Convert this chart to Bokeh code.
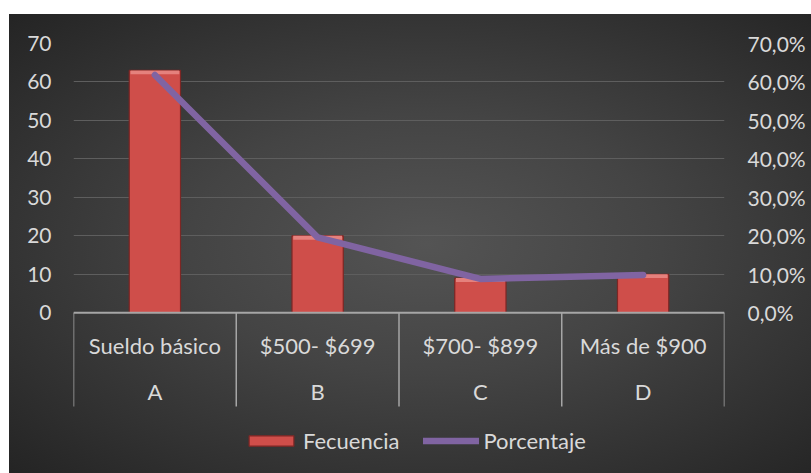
from bokeh.plotting import figure
from bokeh.models import (Range1d, LinearAxis, FixedTicker, Grid, Legend, LegendItem,
                          ColumnDataSource, Span)
from bokeh.core.properties import value
from bokeh.embed import file_html
from bokeh.resources import INLINE

# ---- data ----
categories = ["Sueldo básico", "$500- $699", "$700- $899", "Más de $900"]
groups = ["A", "B", "C", "D"]
frecuencia = [63, 20, 9, 10]
porcentaje = [61.8, 19.6, 8.8, 9.8]
y_ticks = [0, 10, 20, 30, 40, 50, 60, 70]
pct_tick_labels = ["0,0%", "10,0%", "20,0%", "30,0%", "40,0%", "50,0%", "60,0%", "70,0%"]

FONT = "Lato"
TXT = "#d9d9d9"
FS_AX = "21px"
FS = "22px"
AXC = "#a6a6a6"

# layout constants (value units below the zero line hold the category table)
Y_BOTTOM = -41.8
ROW1_Y = -8.4
ROW2_Y = -20.5
SEP_Y = -24.4
BEVEL = 1.0

n = len(categories)
centers = list(range(n))
bounds = [i - 0.5 for i in range(n + 1)]

src = ColumnDataSource(dict(x=centers, f=frecuencia, p=porcentaje,
                            fb=[v - BEVEL for v in frecuencia],
                            cat=categories, grp=groups))

p = figure(width=811, height=473, output_backend="svg", toolbar_location=None,
           x_range=Range1d(-0.5, n - 0.5), y_range=Range1d(Y_BOTTOM, 70),
           x_axis_type=None, y_axis_type=None,
           min_border_left=73, min_border_right=87, min_border_top=43,
           min_border_bottom=0)
p.extra_y_ranges = {"pct": Range1d(Y_BOTTOM, 70)}
p.border_fill_color = None
p.background_fill_color = None
p.outline_line_color = None
p.styles = {
    "background": "radial-gradient(ellipse farthest-corner at 52% 50%, #545454 0%, #444444 40%, #2c2c2c 85%, #242424 100%) 9px 14px / 802px 459px no-repeat, #ffffff"
}

# y axes
left = LinearAxis(ticker=FixedTicker(ticks=y_ticks))
right = LinearAxis(y_range_name="pct", ticker=FixedTicker(ticks=y_ticks),
                   major_label_overrides={t: l for t, l in zip(y_ticks, pct_tick_labels)})
for ax, st in ((left, 22), (right, 23)):
    ax.axis_line_color = None
    ax.major_tick_line_color = None
    ax.minor_tick_line_color = None
    ax.major_tick_out = 0
    ax.major_tick_in = 0
    ax.major_label_standoff = st
    ax.major_label_text_font = FONT
    ax.major_label_text_font_size = FS_AX
    ax.major_label_text_color = TXT
p.add_layout(left, "left")
p.add_layout(right, "right")

p.add_layout(Grid(dimension=1, ticker=left.ticker, grid_line_color="#5e5e5e",
                  grid_line_width=1))

# bars (with a lighter top bevel)
bars = p.vbar(x="x", top="f", width=0.315, bottom=0, source=src,
              fill_color="#cf4e4a", line_color="#7d2624", line_width=1.2)
p.vbar(x="x", top="f", bottom="fb", width=0.30, source=src,
       fill_color="#e5817d", line_color=None)

# category table below the zero line
p.add_layout(Span(location=0, dimension="width", line_color=AXC, line_width=2))
p.segment(x0=bounds, y0=[0] * len(bounds), x1=bounds, y1=[SEP_Y] * len(bounds),
          line_color=AXC, line_width=1.5)
p.text(x="x", y=ROW1_Y, text="cat", source=src, text_align="center",
       text_baseline="middle", text_font=value(FONT),
       text_font_size=value(FS), text_color=TXT)
p.text(x="x", y=ROW2_Y, text="grp", source=src, text_align="center",
       text_baseline="middle", text_font=value(FONT),
       text_font_size=value(FS), text_color=TXT)

# line
ln = p.line(x="x", y="p", source=src, y_range_name="pct", line_color="#8064a2",
            line_width=6.5, line_cap="round", line_join="round")

legend = Legend(items=[LegendItem(label="Fecuencia", renderers=[bars]),
                       LegendItem(label="Porcentaje", renderers=[ln])],
                orientation="horizontal", location=(170, 19),
                glyph_width=56, glyph_height=13, label_standoff=4, spacing=24,
                padding=0, margin=0,
                background_fill_alpha=0, border_line_alpha=0,
                label_text_font=FONT, label_text_font_size=FS,
                label_text_color=TXT)
p.add_layout(legend, "center")

open("out.html", "w").write(file_html(p, INLINE))
